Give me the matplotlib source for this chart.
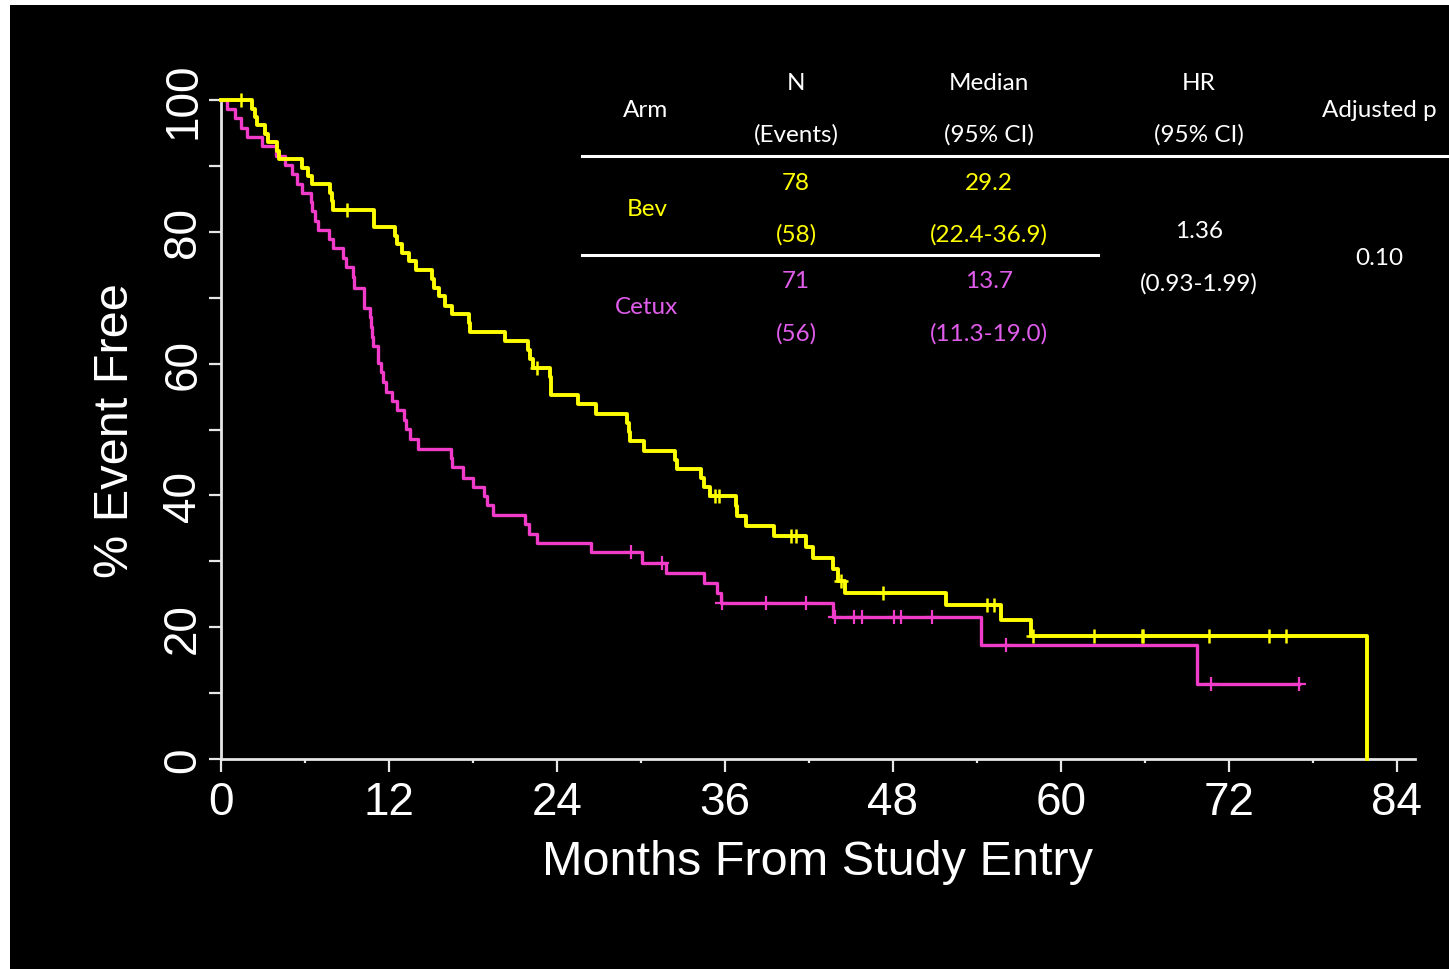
import numpy as np
import matplotlib
matplotlib.use("Agg")
import matplotlib.pyplot as plt
from matplotlib.patches import Rectangle
from matplotlib.lines import Line2D

W, H, DPI = 1449, 970, 100

# ---------------- data ----------------
bev_times = [0, 2.24, 2.4, 2.6, 3.14, 3.35, 4.0, 4.15, 5.8, 6.2, 6.5, 7.8, 7.9, 8.0,
             10.9, 10.95, 12.4, 12.6, 12.9, 13.4, 13.9, 15.05, 15.2, 15.6, 16.0, 16.5,
             17.7, 17.8, 20.3, 21.95, 22.1, 22.3, 23.5, 23.55, 23.6, 25.5, 26.8, 29.0,
             29.15, 29.25, 30.2, 32.4, 32.6, 34.3, 34.5, 34.9, 36.8, 36.85, 37.5, 39.5,
             41.8, 42.3, 43.7, 44.1, 44.6, 51.8, 55.7, 57.9, 81.9]
bev_surv = [100, 98.7, 97.4, 96.2, 94.9, 93.6, 92.3, 91.0, 89.7, 88.5, 87.2, 85.9, 84.6, 83.3,
            82.0, 80.7, 79.4, 78.1, 76.8, 75.5, 74.2, 72.8, 71.5, 70.2, 68.8, 67.5,
            66.1, 64.8, 63.4, 62.1, 60.7, 59.4, 58.0, 56.6, 55.2, 53.8, 52.4, 51.0,
            49.6, 48.2, 46.8, 45.4, 44.0, 42.6, 41.2, 39.9, 38.4, 36.9, 35.4, 33.9,
            32.2, 30.5, 28.8, 27.0, 25.2, 23.4, 21.1, 18.6, 0]
bev_censor = [1.4, 9.0, 22.55, 35.3, 35.55, 40.7, 41.05, 44.3, 47.3, 54.7, 55.2, 58.0,
              62.4, 65.8, 65.9, 70.6, 74.9, 76.1]

cetux_times = [0, 0.4, 1.0, 1.4, 1.85, 2.9, 3.9, 4.6, 5.1, 5.4, 5.8, 6.4, 6.5, 6.7, 6.9,
               7.7, 8.0, 8.7, 8.9, 9.4, 9.5, 10.2, 10.25, 10.65, 10.7, 10.8, 10.85, 11.2,
               11.25, 11.4, 11.6, 11.8, 12.2, 12.6, 13.1, 13.2, 13.5, 14.1, 16.4, 16.5,
               17.3, 18.0, 18.8, 19.0, 19.45, 21.7, 22.0, 22.55, 26.4, 30.05, 31.8, 34.5,
               35.4, 35.7, 43.7, 54.3, 69.7]
cetux_surv = [100, 98.6, 97.2, 95.8, 94.4, 93.0, 91.5, 90.1, 88.7, 87.3, 85.9, 84.5, 83.1, 81.7, 80.3,
              78.9, 77.5, 76.1, 74.6, 73.2, 71.5, 70.0, 68.5, 67.0, 65.5, 64.1, 62.7, 61.4,
              60.1, 58.7, 57.2, 55.7, 54.3, 52.9, 51.5, 50.1, 48.6, 47.1, 45.7, 44.3,
              42.7, 41.3, 39.9, 38.5, 37.0, 35.6, 34.2, 32.8, 31.4, 29.8, 28.2, 26.7,
              25.2, 23.6, 21.6, 17.3, 11.4]
cetux_censor = [29.3, 31.5, 35.8, 38.9, 41.8, 43.9, 45.2, 45.8, 48.1, 48.6, 50.8, 56.1,
                70.7, 77.0]
cetux_last_followup = 77.0

x_major = [0, 12, 24, 36, 48, 60, 72, 84]
x_minor = [6, 18, 30, 42, 54, 66, 78]
y_major = [0, 20, 40, 60, 80, 100]
y_minor = [10, 30, 50, 70, 90]

x_title = "Months From Study Entry"
y_title = "% Event Free"

# table content
hdr_top = ["N", "Median", "HR"]
hdr_bot = ["(Events)", "(95% CI)", "(95% CI)"]
hdr_mid = ["Arm", "Adjusted p"]
arms = ["Bev", "Cetux"]
arm_n = ["78", "71"]
arm_events = ["(58)", "(56)"]
arm_median = ["29.2", "13.7"]
arm_median_ci = ["(22.4-36.9)", "(11.3-19.0)"]
hr_value = "1.36"
hr_ci = "(0.93-1.99)"
adj_p = "0.10"

# ---------------- styling ----------------
BEV = "#FFFF00"
CET = "#F03CC8"
CET_TXT = "#E05CEB"
AXC = "#E6E6E6"
FONT = "Liberation Sans"
TFONT = ["Lato", "DejaVu Sans"]

fig = plt.figure(figsize=(W / DPI, H / DPI), dpi=DPI, facecolor="white")
fig.add_artist(Rectangle((10 / W, -0.02), 1.1, (H - 6) / H + 0.02, transform=fig.transFigure,
                         facecolor="black", edgecolor="none", zorder=-10))

ax = fig.add_axes([221 / W, (H - 760) / H, (1415 - 221) / W, (760 - 101) / H])
ax.set_facecolor("none")
ax.set_xlim(0, 85.3)
ax.set_ylim(0, 100)


def step_value(times, surv, t):
    i = np.searchsorted(times, t, side="right") - 1
    return surv[i]


bt = np.array(bev_times); bs = np.array(bev_surv)
ct = np.array(cetux_times + [cetux_last_followup])
cs = np.array(cetux_surv + [cetux_surv[-1]])

ax.step(ct, cs, where="post", color=CET, lw=2.4, clip_on=False, zorder=3)
ax.step(bt, bs, where="post", color=BEV, lw=2.8, clip_on=False, zorder=4)

ax.plot(cetux_censor, [step_value(ct, cs, t) for t in cetux_censor], ls="none",
        marker="+", ms=10, mew=1.6, color=CET, clip_on=False, zorder=3)
ax.plot(bev_censor, [step_value(bt, bs, t) for t in bev_censor], ls="none",
        marker="+", ms=10, mew=1.8, color=BEV, clip_on=False, zorder=4)

for s in ["top", "right"]:
    ax.spines[s].set_visible(False)
for s in ["left", "bottom"]:
    ax.spines[s].set_color(AXC)
    ax.spines[s].set_linewidth(2.0)

ax.set_xticks(x_major)
ax.set_xticks(x_minor, minor=True)
ax.set_yticks(y_major)
ax.set_yticks(y_minor, minor=True)
ax.tick_params(axis="x", which="major", length=9.4, width=1.6, color=AXC,
               labelcolor="white", labelsize=33, pad=30)
ax.tick_params(axis="x", which="minor", length=3, width=1.6, color=AXC)
ax.tick_params(axis="y", which="both", length=8.6, width=1.6, color=AXC,
               labelcolor="white", labelsize=33, pad=10)
ax.set_xticklabels([str(v) for v in x_major], family=FONT, va="baseline")
ax.set_yticklabels([str(v) for v in y_major], family=FONT, rotation=90,
                   ha="center", va="baseline", rotation_mode="anchor")

ax.set_xlabel(x_title, family=FONT, fontsize=35, color="white", va="baseline")
ax.xaxis.set_label_coords(0.5, (760 - 875) / 659)
ax.set_ylabel(y_title, family=FONT, fontsize=35, color="white", va="baseline")
ax.yaxis.set_label_coords((128 - 221) / 1194, 0.5)


# ---------------- table ----------------
def T(x, y, s, color="white", ha="center"):
    fig.text(x / W, 1 - y / H, s, color=color, ha=ha, va="baseline",
             family=TFONT, fontsize=17.5)


def HL(x0, x1, y):
    fig.add_artist(Line2D([x0 / W, x1 / W], [1 - y / H] * 2, color="white", lw=2.2,
                          transform=fig.transFigure))


col_x = [796, 989, 1199]
for cx, a, b in zip(col_x, hdr_top, hdr_bot):
    T(cx, 90, a)
    T(cx, 141.5, b)
T(646, 117, hdr_mid[0])
T(1379, 117, hdr_mid[1])
HL(582, 1449, 156.5)

arm_colors = [BEV, CET_TXT]
row_y = [189.5, 288.5]
for i, (arm, n, ev, md, ci) in enumerate(zip(arms, arm_n, arm_events, arm_median, arm_median_ci)):
    y0 = row_y[i]
    c = arm_colors[i]
    T(796, y0, n, c)
    T(989, y0, md, c)
    T(647, y0 + 26, arm, c)
    T(796, y0 + 52.5, ev, c)
    T(989, y0 + 52.5, ci, c)
HL(582, 1098, 255.5)
T(1199, 238.5, hr_value)
T(1199, 291, hr_ci)
T(1379, 265, adj_p)

fig.savefig("out.png", dpi=DPI, facecolor=fig.get_facecolor())
